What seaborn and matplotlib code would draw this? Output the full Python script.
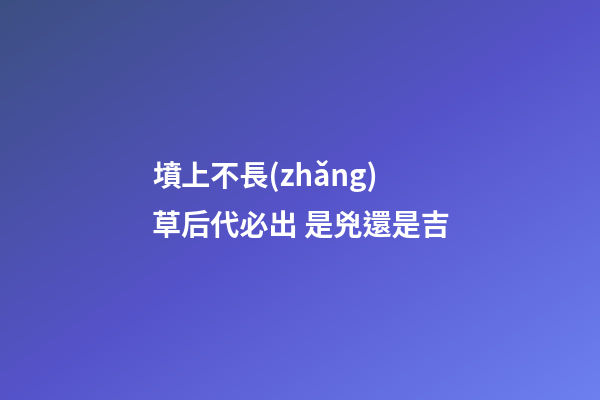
import numpy as np
import pandas as pd
import matplotlib
matplotlib.use('Agg')
import matplotlib.pyplot as plt
from matplotlib.colors import LinearSegmentedColormap
import seaborn as sns

# 배경 그라데이션 색 (왼쪽 위 -> 가운데 -> 오른쪽 아래)
grad_stops = [0.0, 0.5, 1.0]
grad_colors = ['#3c4f82', '#5552c8', '#6c7fef']

# 제목 두 줄
title_lines = ['墳上不長(zhǎng)', '草后代必出 是兇還是吉']

sns.set_theme(style='white')
plt.rcParams['font.family'] = ['Noto Sans CJK TC', 'DejaVu Sans']

W, H = 600, 400
xx, yy = np.meshgrid(np.linspace(0, 1, W // 4), np.linspace(0, 1, H // 4))
grid = pd.DataFrame((xx + yy) / 2)

cmap = LinearSegmentedColormap.from_list('bg', list(zip(grad_stops, grad_colors)))

fig = plt.figure(figsize=(6, 4), dpi=100)
ax = fig.add_axes([0, 0, 1, 1])
sns.heatmap(grid, cmap=cmap, vmin=0, vmax=1, cbar=False, ax=ax,
            xticklabels=False, yticklabels=False)
ax.set_axis_off()

baselines = [186, 234]
for line, y in zip(title_lines, baselines):
    fig.text(152 / W, 1 - y / H, line, color='white', fontsize=21,
             fontweight='bold', ha='left', va='baseline')

fig.savefig('out.png', dpi=100)
